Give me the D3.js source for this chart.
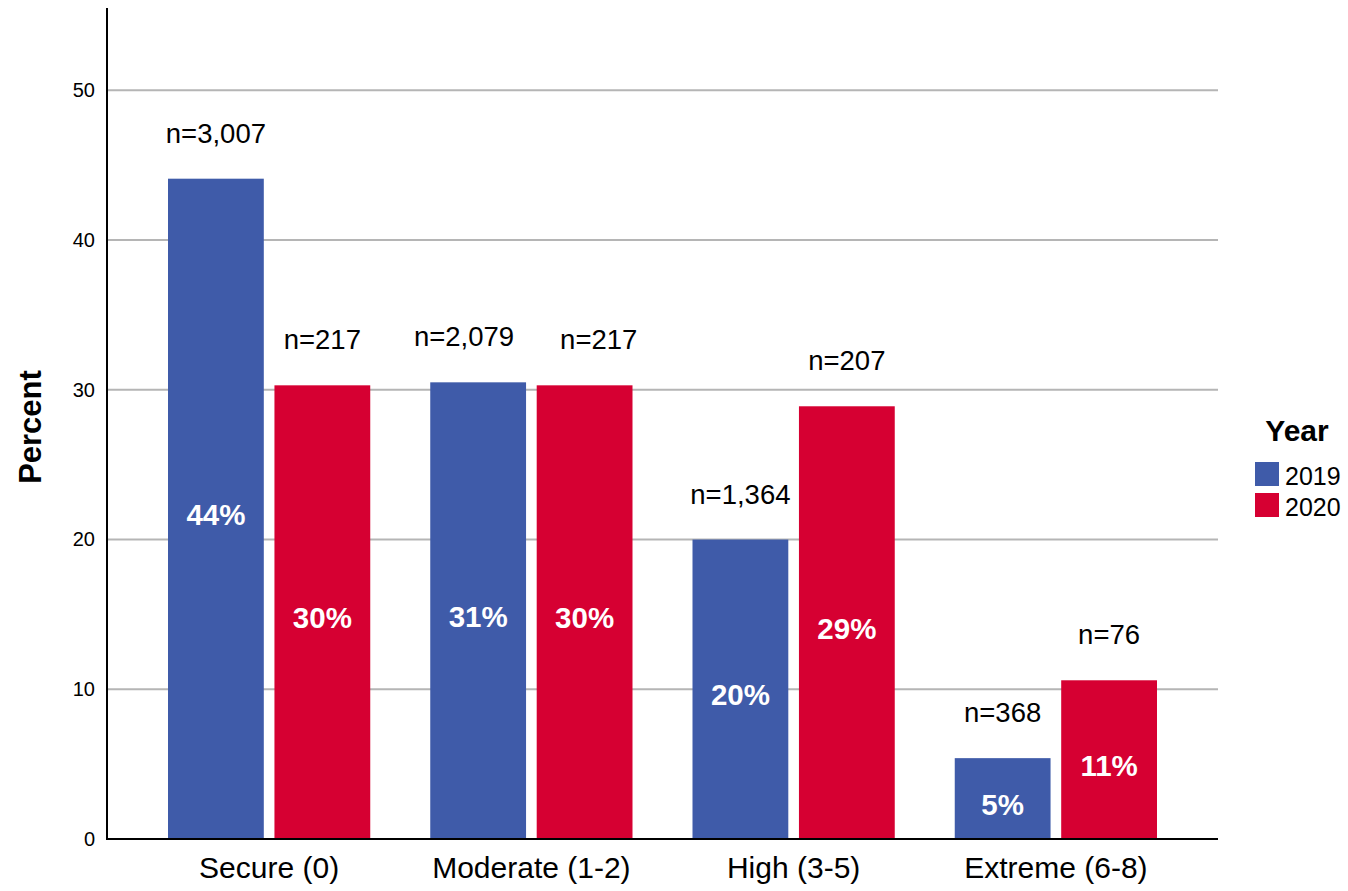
<!DOCTYPE html>
<html><head><meta charset="utf-8">
<script src="https://cdn.jsdelivr.net/npm/d3@7"></script>
<style>body{margin:0;background:#fff}svg{display:block;font-family:"Liberation Sans",Arial,sans-serif}</style>
</head><body><svg id="c" width="1348" height="891"></svg>
<script>
const categories = ["Secure (0)", "Moderate (1-2)", "High (3-5)", "Extreme (6-8)"];
const years = ["2019", "2020"];
const percent2019 = [44.1, 30.5, 20.0, 5.4];
const percent2020 = [30.3, 30.3, 28.9, 10.6];
const pctLabels2019 = ["44%", "31%", "20%", "5%"];
const pctLabels2020 = ["30%", "30%", "29%", "11%"];
const nLabels2019 = ["n=3,007", "n=2,079", "n=1,364", "n=368"];
const nLabels2020 = ["n=217", "n=217", "n=207", "n=76"];
const yTicks = [0, 10, 20, 30, 40, 50];
const colors = {"2019": "#3f5ba9", "2020": "#d60032"};

const svg = d3.select("#c");
const y = d3.scaleLinear().domain([0, 55.5]).range([839, 8]);
const x0 = d3.scaleBand().domain(categories).range([138, 1187]).padding(0);
const x1 = d3.scaleBand().domain(years).range([30, x0.bandwidth() - 30]).paddingInner(0.1);

// gridlines
svg.append("g").selectAll("line").data(yTicks.filter(d => d > 0)).join("line")
  .attr("x1", 107).attr("x2", 1218).attr("y1", d => y(d)).attr("y2", d => y(d))
  .attr("stroke", "#b5b5b5").attr("stroke-width", 2);

const data = [];
categories.forEach((c, i) => {
  data.push({cat: c, year: "2019", v: percent2019[i], pct: pctLabels2019[i], n: nLabels2019[i]});
  data.push({cat: c, year: "2020", v: percent2020[i], pct: pctLabels2020[i], n: nLabels2020[i]});
});
const cx = d => x0(d.cat) + x1(d.year) + x1.bandwidth() / 2;

const g = svg.append("g");
g.selectAll("rect").data(data).join("rect")
  .attr("x", d => x0(d.cat) + x1(d.year))
  .attr("width", x1.bandwidth())
  .attr("y", d => y(d.v))
  .attr("height", d => y(0) - y(d.v))
  .attr("fill", d => colors[d.year]);

g.selectAll("text.pct").data(data).join("text").attr("class", "pct")
  .attr("x", cx)
  .attr("y", d => (y(d.v) + y(0)) / 2 + 16)
  .attr("text-anchor", "middle").attr("fill", "#fff")
  .attr("font-weight", "bold").attr("font-size", 29.5).text(d => d.pct);

const nText = g.selectAll("text.n").data(data).join("text").attr("class", "n")
  .attr("x", cx)
  .attr("y", d => y(d.v) - 36)
  .attr("text-anchor", "middle").attr("fill", "#000")
  .attr("font-size", 27.5).text(d => d.n);

// simple overlap avoidance within each category: push labels apart horizontally
const minGap = 46;
categories.forEach(c => {
  const pair = nText.filter(d => d.cat === c).nodes();
  if (pair.length !== 2) return;
  const [a, b] = pair;
  const ya = +a.getAttribute("y"), yb = +b.getAttribute("y");
  if (Math.abs(ya - yb) > 28) return;
  const ba = a.getBBox(), bb = b.getBBox();
  const gap = bb.x - (ba.x + ba.width);
  if (gap < minGap) {
    const s = (minGap - gap) / 2;
    a.setAttribute("x", +a.getAttribute("x") - s);
    b.setAttribute("x", +b.getAttribute("x") + s);
  }
});

// y axis
const yAxis = d3.axisLeft(y).tickValues(yTicks).tickSize(0).tickPadding(12);
const yaG = svg.append("g").attr("transform", "translate(107,0)").call(yAxis);
yaG.select(".domain").remove();
yaG.selectAll("text").attr("font-size", 20).attr("font-family", "Liberation Sans, Arial, sans-serif").attr("fill", "#000");
svg.append("line").attr("x1", 107).attr("x2", 107).attr("y1", y(55.5)).attr("y2", y(0) + 1)
  .attr("stroke", "#000").attr("stroke-width", 2);

// x axis
const xAxis = d3.axisBottom(x0).tickSize(0).tickPadding(18);
const xaG = svg.append("g").attr("transform", "translate(0,839)").call(xAxis);
xaG.select(".domain").remove();
xaG.selectAll("text").attr("font-size", 30).attr("font-family", "Liberation Sans, Arial, sans-serif").attr("fill", "#000");
svg.append("line").attr("x1", 106).attr("x2", 1218).attr("y1", y(0)).attr("y2", y(0))
  .attr("stroke", "#000").attr("stroke-width", 2);

// y title
svg.append("text").attr("transform", "translate(41,427) rotate(-90)")
  .attr("text-anchor", "middle").attr("font-weight", "bold").attr("font-size", 31).text("Percent");

// legend
const lg = svg.append("g");
lg.append("text").attr("x", 1297).attr("y", 441).attr("text-anchor", "middle")
  .attr("font-weight", "bold").attr("font-size", 30).text("Year");
years.forEach((yr, i) => {
  lg.append("rect").attr("x", 1255).attr("y", 462 + i * 31).attr("width", 24).attr("height", 24).attr("fill", colors[yr]);
  lg.append("text").attr("x", 1285).attr("y", 485 + i * 31).attr("font-size", 25).text(yr);
});
</script></body></html>
